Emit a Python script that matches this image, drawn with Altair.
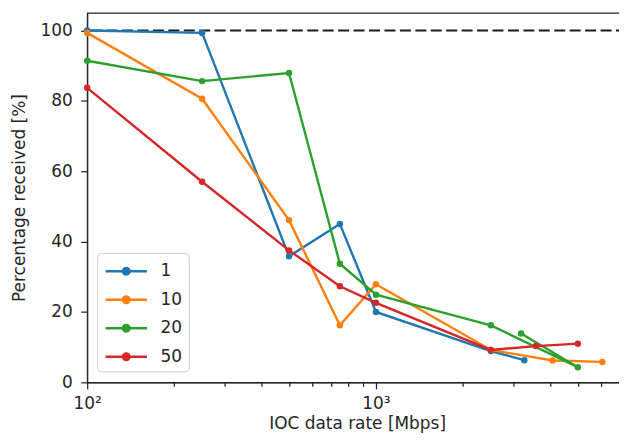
import altair as alt
import pandas as pd

series_names = ["1", "10", "20", "50"]
x_1 = [100, 250, 500, 750, 1000, 2500, 3265]
y_1 = [100.0, 99.3, 35.8, 45.0, 20.0, 8.9, 6.3]
x_10 = [100, 250, 500, 750, 1000, 2500, 4090, 6080]
y_10 = [99.3, 80.6, 46.1, 16.2, 27.9, 9.2, 6.2, 5.8]
x_20 = [100, 250, 500, 750, 1000, 2500, 5000, 3180]
y_20 = [91.4, 85.6, 87.9, 33.7, 24.9, 16.2, 4.3, 13.9]
x_50 = [100, 250, 500, 750, 1000, 2500, 3580, 5000]
y_50 = [83.7, 57.0, 37.5, 27.3, 22.6, 9.2, 10.3, 11.0]
colors = ["#1f77b4", "#ff7f0e", "#2ca02c", "#d62728"]
major_ticks = [100, 1000]
minor_ticks = [200, 300, 400, 500, 600, 700, 800, 900, 2000, 3000, 4000, 5000, 6000, 7000]
y_ticks = [0, 20, 40, 60, 80, 100]

rows = []
for name, xs, ys in zip(series_names, [x_1, x_10, x_20, x_50], [y_1, y_10, y_20, y_50]):
    for i, (xv, yv) in enumerate(zip(xs, ys)):
        rows.append({"series": name, "rate": xv, "pct": yv, "idx": i})
df = pd.DataFrame(rows)

FONT = "DejaVu Sans"
TXT = "#262626"

xscale = alt.Scale(type="log", domain=[100, 7400], nice=False)
yscale = alt.Scale(domain=[0, 105], nice=False, zero=False)

sym = "M-0.95,0H3.0M0.70,0A0.32,0.32,0,1,1,1.34,0A0.32,0.32,0,1,1,0.70,0Z"

lines = alt.Chart(df).mark_line(
    strokeWidth=2.4,
    point=alt.OverlayMarkDef(filled=True, size=42, opacity=1),
).encode(
    x=alt.X("rate:Q", scale=xscale,
            axis=alt.Axis(values=major_ticks, orient="bottom", tickSize=6.5,
                          labelPadding=7, titlePadding=4, labelFlush=False,
                          labelExpr="datum.value == 100 ? '10²' : '10³'",
                          title="IOC data rate [Mbps]", grid=False)),
    y=alt.Y("pct:Q", scale=yscale,
            axis=alt.Axis(values=y_ticks, tickSize=6.5, labelPadding=8.5, titlePadding=11,
                          title="Percentage received [%]", grid=False)),
    color=alt.Color("series:N", sort=series_names,
                    scale=alt.Scale(domain=series_names, range=colors),
                    legend=alt.Legend(title=None, orient="none", legendX=10, legendY=241,
                                      symbolType=sym, symbolSize=441, symbolStrokeWidth=2.4,
                                      labelFontSize=17, labelFont=FONT, labelColor=TXT,
                                      labelOffset=33, rowPadding=7.6,
                                      padding=6.5, strokeColor="#cccccc", fillColor="white",
                                      cornerRadius=4)),
    order=alt.Order("idx:Q"),
)

minor = alt.Chart(pd.DataFrame({"t": minor_ticks})).mark_tick(opacity=0).encode(
    x=alt.X("t:Q", scale=xscale,
            axis=alt.Axis(values=minor_ticks, orient="bottom", tickSize=4, labels=False,
                          title=None, grid=False, domain=False)),
)

ref = alt.Chart(pd.DataFrame({"v": [100]})).mark_rule(
    color="#1a1a1a", strokeWidth=2, strokeDash=[11, 4.5]
).encode(y=alt.Y("v:Q", scale=yscale))

chart = alt.layer(ref, minor, lines).resolve_axis(x="independent").properties(
    width=542, height=371, background="white",
    padding={"left": 2.5, "top": 4, "right": -9, "bottom": 0},
).configure_view(stroke=TXT, strokeWidth=1.25).configure_axis(
    labelFont=FONT, titleFont=FONT, labelFontSize=17, titleFontSize=17,
    titleFontWeight="normal", labelColor=TXT, titleColor=TXT,
    domainColor=TXT, tickColor=TXT, domainWidth=1.25, tickWidth=1.25,
)

chart.save("out.html", embed_options={"renderer": "svg", "actions": False})
